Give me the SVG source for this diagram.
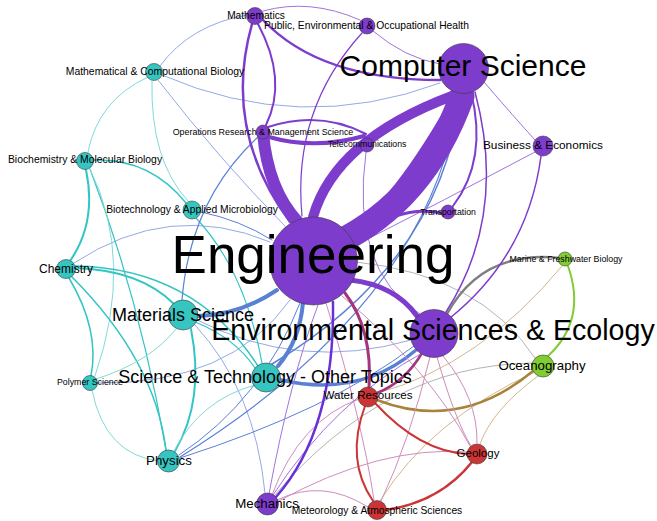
<svg xmlns="http://www.w3.org/2000/svg" width="657" height="521" viewBox="0 0 657 521">
<style>
.e{fill:none;stroke-linecap:round}
.pp{stroke:#7e3ccc}
.ppl{stroke:#9f74dc}
.tt{stroke:#33c4c4}
.ttl{stroke:#7fdada}
.tp{stroke:#5a80d4}
.tpl{stroke:#93aae6}
.pr{stroke:#a5357d}
.prl{stroke:#cf8cbd}
.pg{stroke:#7f7f7f}
.pgl{stroke:#b4b4b4}
.rg{stroke:#a8843a}
.rgl{stroke:#d2b88e}
.rr{stroke:#cc3535}
.gg{stroke:#80cc33}
.np{fill:#7e3ccc}
.nt{fill:#35c6c2}
.ng{fill:#80cc33}
.nr{fill:#cc3535}
circle{stroke:#3a3a3a;stroke-width:0.6}
text{font-family:"Liberation Sans",Arial,sans-serif;fill:#000;text-anchor:middle}
</style>
<rect width="657" height="521" fill="#fff"/>
<g id="edges">
<!-- teal-purple blue (light) -->
<path class="e tpl" stroke-width="1" d="M162,75 Q300,135 440,83"/>
<path class="e tpl" stroke-width="1" d="M158,80 Q220,160 285,226"/>
<path class="e tpl" stroke-width="1" d="M160,66 Q190,25 247,15"/>
<path class="e tpl" stroke-width="1" d="M74,263 Q170,200 270,242"/>
<path class="e tpl" stroke-width="1" d="M195,325 Q255,390 265,493"/>
<path class="e tpl" stroke-width="1" d="M97,383 Q230,385 290,300"/>
<path class="e tpl" stroke-width="1" d="M197,320 Q300,372 411,340"/>
<!-- teal-teal -->
<path class="e ttl" stroke-width="1" d="M148,77 Q98,100 88,152"/>
<path class="e ttl" stroke-width="1" d="M152,81 Q150,160 188,201"/>
<path class="e tt" stroke-width="2" d="M86,170 Q97,222 70,261"/>
<path class="e tt" stroke-width="1.5" d="M94,160 Q150,158 186,203"/>
<path class="e tt" stroke-width="1.2" d="M90,169 Q140,300 166,450"/>
<path class="e ttl" stroke-width="1" d="M95,376 Q135,260 90,169"/>
<path class="e tt" stroke-width="1.2" d="M196,218 Q245,270 262,363"/>
<path class="e tt" stroke-width="2" d="M75,268 Q140,270 174,304"/>
<path class="e tt" stroke-width="1.5" d="M75,266 Q195,268 258,366"/>
<path class="e tt" stroke-width="1.5" d="M69,278 Q100,330 91,376"/>
<path class="e tt" stroke-width="1.5" d="M72,277 Q155,360 166,450"/>
<path class="e ttl" stroke-width="1" d="M92,390 Q105,455 159,461"/>
<path class="e ttl" stroke-width="1" d="M96,379 Q150,362 176,329"/>
<path class="e tt" stroke-width="2" d="M191,329 Q205,400 175,451"/>
<path class="e ttl" stroke-width="1" d="M255,385 Q200,400 174,451"/>
<path class="e tt" stroke-width="1.2" d="M195,322 Q235,338 255,368"/>
<!-- teal-purple blue -->
<path class="e tp" stroke-width="4" d="M278,366 Q300,340 303,302"/>
<path class="e tp" stroke-width="4" d="M198,316 Q240,315 277,290"/>
<path class="e tp" stroke-width="3.5" d="M281,380 Q360,398 416,350"/>
<path class="e tp" stroke-width="1.5" d="M461,94 Q442,262 272,364"/>
<path class="e tp" stroke-width="1.2" d="M459,95 Q432,300 180,457"/>
<path class="e tp" stroke-width="1" d="M180,458 Q330,410 414,346"/>
<path class="e tp" stroke-width="1" d="M179,455 Q262,400 300,303"/>
<path class="e tp" stroke-width="1" d="M201,212 Q240,220 272,240"/>
<path class="e tp" stroke-width="1.2" d="M258,137 Q190,200 182,300"/>
<!-- purple-green gray -->
<path class="e pgl" stroke-width="1" d="M356,262 Q480,275 535,358"/>
<path class="e pgl" stroke-width="1" d="M274,496 Q385,365 532,363"/>
<path class="e pg" stroke-width="2.5" d="M447,314 Q482,250 559,258"/>
<!-- green -->
<path class="e gg" stroke-width="2" d="M568,266 Q587,320 548,356"/>
<!-- red-green -->
<path class="e rgl" stroke-width="1" d="M562,266 Q480,365 378,393"/>
<path class="e rgl" stroke-width="1" d="M535,372 Q430,420 380,501"/>
<path class="e rgl" stroke-width="1" d="M538,376 Q492,410 480,444"/>
<path class="e rg" stroke-width="2.5" d="M377,400 Q460,432 533,371"/>
<!-- purple-red -->
<path class="e prl" stroke-width="1" d="M443,356 Q478,398 477,443"/>
<path class="e prl" stroke-width="1" d="M437,357 Q455,420 471,446"/>
<path class="e prl" stroke-width="1" d="M430,357 Q410,440 381,501"/>
<path class="e prl" stroke-width="1" d="M342,296 Q430,370 470,446"/>
<path class="e prl" stroke-width="1" d="M326,303 Q362,420 374,500"/>
<path class="e prl" stroke-width="1" d="M277,500 Q322,478 368,507"/>
<path class="e prl" stroke-width="1" d="M272,495 Q300,420 359,399"/>
<path class="e prl" stroke-width="1" d="M277,502 Q380,445 469,452"/>
<path class="e pr" stroke-width="3" d="M345,293 Q373,330 369,388"/>
<path class="e pr" stroke-width="2.5" d="M422,353 Q405,382 377,393"/>
<!-- red-red -->
<path class="e rr" stroke-width="2" d="M375,403 Q420,452 468,454"/>
<path class="e rr" stroke-width="2" d="M365,406 Q345,460 373,501"/>
<path class="e rr" stroke-width="2.5" d="M472,462 Q440,502 386,510"/>
<!-- purple-purple -->
<path class="e ppl" stroke-width="1" d="M373,31 Q405,58 440,64"/>
<path class="e ppl" stroke-width="1" d="M263,11 Q310,-2 360,20"/>
<path class="e pp" stroke-width="1.2" d="M362,33 Q292,110 302,216"/>
<path class="e ppl" stroke-width="1" d="M366,152 Q350,270 420,314"/>
<path class="e ppl" stroke-width="1" d="M484,82 Q515,118 535,140"/>
<path class="e ppl" stroke-width="1" d="M535,152 Q445,200 354,246"/>
<path class="e ppl" stroke-width="1" d="M273,495 Q335,400 424,352"/>
<path class="e ppl" stroke-width="1" d="M269,494 Q290,380 318,305"/>
<path class="e pp" stroke-width="2.5" d="M252,24 Q222,130 290,222"/>
<path class="e pp" stroke-width="2" d="M258,24 Q288,80 266,125"/>
<path class="e pp" stroke-width="2.5" d="M263,20 Q320,80 440,80"/>
<path class="e pp" stroke-width="2" d="M268,127 Q320,110 366,134"/>
<path class="e pp" stroke-width="4" d="M269,137 Q315,150 364,136"/>
<path class="e pp" stroke-width="2" d="M471,92 Q488,160 453,206"/>
<path class="e pp" stroke-width="3" d="M441,213 Q405,205 362,232"/>
<path class="e pp" stroke-width="1.5" d="M475,92 Q508,215 446,312"/>
<path class="e pp" stroke-width="1.5" d="M541,156 Q528,255 450,318"/>
<path class="e pp" stroke-width="5" d="M350,280 Q395,285 417,316"/>
<path class="e" stroke="#6a30d8" stroke-width="2.5" d="M333,302 Q335,430 276,497"/>
<path class="e pp" stroke-width="12" d="M263,133 Q268,190 298,222"/>
<path class="e pp" stroke-width="6" d="M346,236 Q395,205 456,95"/>
<path class="e pp" stroke-width="10" d="M313,217 Q335,140 452,96"/>
<path class="e pp" stroke-width="25" d="M337,243 Q425,200 462,96"/>
</g>
<g id="node-mathematics"><circle class="np" cx="255" cy="16" r="8.5"/><text x="256" y="19" font-size="10.2">Mathematics</text></g>
<g id="node-public-health"><circle class="np" cx="367" cy="26" r="8"/><text x="366.5" y="29" font-size="10.3">Public, Environmental &amp; Occupational Health</text></g>
<g id="node-math-comp-bio"><circle class="nt" cx="154" cy="72" r="8.5"/><text x="155" y="75" font-size="10.4">Mathematical &amp; Computational Biology</text></g>
<g id="node-operations-research"><circle class="np" cx="263" cy="132" r="7"/><text x="263" y="135" font-size="8.9">Operations Research &amp; Management Science</text></g>
<g id="node-telecommunications"><circle class="np" cx="367" cy="145" r="7"/><text x="367" y="147" font-size="8.7">Telecommunications</text></g>
<g id="node-business"><circle class="np" cx="543" cy="146" r="10"/><text x="543" y="149" font-size="11.8">Business &amp; Economics</text></g>
<g id="node-biochemistry"><circle class="nt" cx="85" cy="161" r="8.5"/><text x="85" y="163" font-size="10.4">Biochemistry &amp; Molecular Biology</text></g>
<g id="node-biotechnology"><circle class="nt" cx="192" cy="210" r="9"/><text x="192" y="213" font-size="10.3">Biotechnology &amp; Applied Microbiology</text></g>
<g id="node-transportation"><circle class="np" cx="448" cy="212" r="7"/><text x="448" y="215" font-size="8.7">Transportation</text></g>
<g id="node-chemistry"><circle class="nt" cx="66" cy="269" r="9.5"/><text x="66" y="273" font-size="12">Chemistry</text></g>
<g id="node-marine"><circle class="ng" cx="565" cy="259" r="7"/><text x="566" y="262" font-size="8.8">Marine &amp; Freshwater Biology</text></g>
<g id="node-polymer"><circle class="nt" cx="90" cy="383" r="7.5"/><text x="90" y="385" font-size="8.8">Polymer Science</text></g>
<g id="node-oceanography"><circle class="ng" cx="543" cy="366" r="11"/><text x="542" y="370" font-size="13.3">Oceanography</text></g>
<g id="node-water-resources"><circle class="nr" cx="368" cy="397" r="10"/><text x="368" y="399" font-size="11.6">Water Resources</text></g>
<g id="node-geology"><circle class="nr" cx="477" cy="454" r="10"/><text x="478" y="457" font-size="11.5">Geology</text></g>
<g id="node-physics"><circle class="nt" cx="168.5" cy="461" r="11"/><text x="169" y="465" font-size="13.3">Physics</text></g>
<g id="node-mechanics"><circle class="np" cx="267.5" cy="504" r="11"/><text x="267" y="508" font-size="13.3">Mechanics</text></g>
<g id="node-meteorology"><circle class="nr" cx="377" cy="510" r="9.5"/><text x="377" y="514" font-size="10.3">Meteorology &amp; Atmospheric Sciences</text></g>
<g id="node-materials"><circle class="nt" cx="183" cy="315" r="15"/><text x="183" y="321" font-size="18">Materials Science</text></g>
<g id="node-science-technology"><circle class="nt" cx="266" cy="377.5" r="14.5"/><text x="265" y="383" font-size="18">Science &amp; Technology - Other Topics</text></g>
<g id="node-computer-science"><circle class="np" cx="463.5" cy="68.5" r="25"/><text x="463" y="76" font-size="30">Computer Science</text></g>
<g id="node-environmental"><circle class="np" cx="434" cy="333.5" r="24"/><text x="433" y="340" font-size="28.6">Environmental Sciences &amp; Ecology</text></g>
<g id="node-engineering"><circle class="np" cx="313.5" cy="261" r="44"/><text x="313" y="273" font-size="53">Engineering</text></g>
</svg>
